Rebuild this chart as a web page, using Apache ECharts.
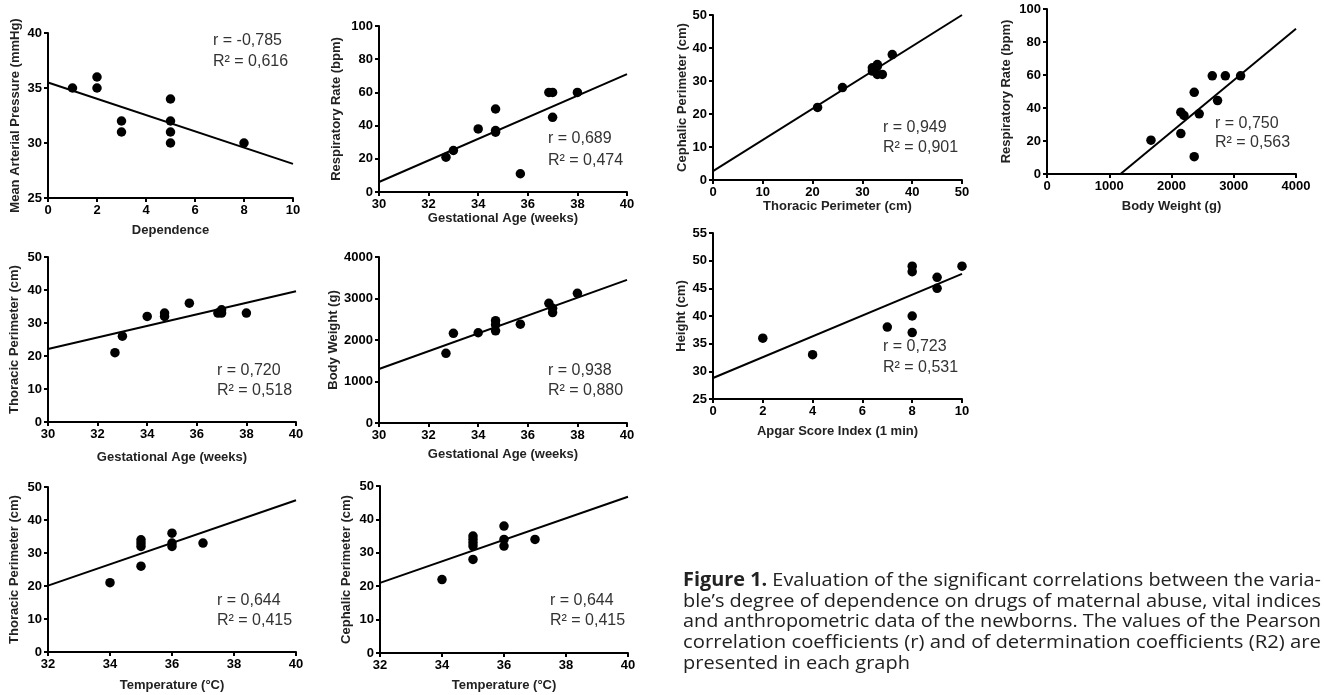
<!DOCTYPE html>
<html>
<head>
<meta charset="utf-8">
<script src="https://cdn.jsdelivr.net/npm/echarts@6/dist/echarts.min.js"></script>
<style>
html, body { margin: 0; background: #fff; }
#chart { width: 1324px; height: 695px; }
</style>
</head>
<body>
<div id="chart"></div>
<script>
var dom = document.getElementById('chart');
var myChart = echarts.init(dom);

// 1: dependence x mean arterial pressure
var dependence = [1, 2, 2, 3, 3, 5, 5, 5, 5, 8];
var meanArterialPressure = [35, 36, 35, 32, 31, 34, 32, 31, 30, 30];
var fitDependence = [0, 10];
var fitPressure = [35.5, 28.1];

// 2: gestational age x respiratory rate
var gestAgeResp = [32.7, 33, 34, 34.7, 34.7, 34.7, 35.7, 36.85, 37, 37, 38];
var respRateAge = [21, 25, 38, 50, 37, 36, 11, 60, 60, 45, 60];
var fitAgeResp = [30, 40];
var fitRespAge = [6, 71];

// 3: thoracic x cephalic perimeter
var thoracicCeph = [21, 26, 32, 32, 32.4, 33, 33, 33, 34, 36];
var cephalicThor = [22, 28, 33, 34, 33.5, 35, 34.5, 32, 32, 38];
var fitThor = [0, 50];
var fitCeph = [2.7, 50];

// 4: body weight x respiratory rate
var weightResp = [1670, 2150, 2200, 2150, 2365, 2365, 2445, 2655, 2740, 2865, 3110];
var respRateWeight = [20.5, 37.5, 35.5, 24.5, 49.5, 10.5, 36.5, 59.5, 44.5, 59.5, 59.5];
var fitWeight = [1180, 4000];
var fitRespWeight = [0, 88];

// 5: gestational age x thoracic perimeter
var gestAgeThor = [32.7, 33, 34, 34.7, 34.7, 35.7, 36.85, 37, 37, 38];
var thoracicAge = [21, 26, 32, 33, 32, 36, 33, 33, 34, 33];
var fitAgeThor = [30, 40];
var fitThorAge = [22.1, 39.6];

// 6: gestational age x body weight
var gestAgeWeight = [32.7, 33, 34, 34.7, 34.7, 34.7, 35.7, 36.85, 37, 37, 38];
var weightAge = [1680, 2160, 2175, 2465, 2365, 2220, 2380, 2885, 2765, 2660, 3125];
var fitAgeWeight = [30, 40];
var fitWeightAge = [1300, 3450];

// 7: apgar x height
var apgar = [2, 4, 7, 8, 8, 8, 8, 9, 9, 10];
var heightCm = [36, 33, 38, 49, 48, 40, 37, 47, 45, 49];
var fitApgar = [0, 10];
var fitHeight = [28.8, 47.6];

// 8: temperature x thoracic perimeter
var tempThor = [34, 35, 35, 35, 35, 36, 36, 36, 37];
var thoracicTemp = [21, 34, 33, 32, 26, 36, 33, 32, 33];
var fitTempThor = [32, 40];
var fitThorTemp = [20.1, 46];

// 9: temperature x cephalic perimeter
var tempCeph = [34, 35, 35, 35, 35, 35, 36, 36, 36, 37];
var cephalicTemp = [22, 35, 34, 33, 32, 28, 38, 34, 32, 34];
var fitTempCeph = [32, 40];
var fitCephTemp = [21, 46.8];

var captionLead = 'Figure 1.';
var captionLines = [
    ' Evaluation of the significant correlations between the varia-',
    'ble\u2019s degree of dependence on drugs of maternal abuse, vital indices',
    'and anthropometric data of the newborns. The values of the Pearson',
    'correlation coefficients (r) and of determination coefficients (R2) are',
    'presented in each graph'
];

var panels = [
    {x: dependence, y: meanArterialPressure, fx: fitDependence, fy: fitPressure,
     xr: [0, 10, 2], yr: [25, 40, 5], xName: 'Dependence', yName: 'Mean Arterial Pressure (mmHg)',
     r: 'r = -0,785', r2: 'R\u00b2 = 0,616', box: [48, 33, 245, 165], xGap: 26, yGap: 26, txt: [213, 41, 62]},
    {x: gestAgeResp, y: respRateAge, fx: fitAgeResp, fy: fitRespAge,
     xr: [30, 40, 2], yr: [0, 100, 20], xName: 'Gestational Age (weeks)', yName: 'Respiratory Rate (bpm)',
     r: 'r = 0,689', r2: 'R\u00b2 = 0,474', box: [379, 26, 248, 166], xGap: 17, yGap: 36, txt: [548, 139, 161]},
    {x: thoracicCeph, y: cephalicThor, fx: fitThor, fy: fitCeph,
     xr: [0, 50, 10], yr: [0, 50, 10], xName: 'Thoracic Perimeter (cm)', yName: 'Cephalic Perimeter (cm)',
     r: 'r = 0,949', r2: 'R\u00b2 = 0,901', box: [713, 15, 249, 165], xGap: 17, yGap: 23, txt: [883, 128, 148]},
    {x: weightResp, y: respRateWeight, fx: fitWeight, fy: fitRespWeight,
     xr: [0, 4000, 1000], yr: [0, 100, 20], xName: 'Body Weight (g)', yName: 'Respiratory Rate (bpm)',
     r: 'r = 0,750', r2: 'R\u00b2 = 0,563', box: [1047, 9, 249, 165], xGap: 26, yGap: 34, txt: [1215, 124, 143]},
    {x: gestAgeThor, y: thoracicAge, fx: fitAgeThor, fy: fitThorAge,
     xr: [30, 40, 2], yr: [0, 50, 10], xName: 'Gestational Age (weeks)', yName: 'Thoracic Perimeter (cm)',
     r: 'r = 0,720', r2: 'R\u00b2 = 0,518', box: [48, 257, 248, 165], xGap: 29, yGap: 27, txt: [217, 371, 391]},
    {x: gestAgeWeight, y: weightAge, fx: fitAgeWeight, fy: fitWeightAge,
     xr: [30, 40, 2], yr: [0, 4000, 1000], xName: 'Gestational Age (weeks)', yName: 'Body Weight (g)',
     r: 'r = 0,938', r2: 'R\u00b2 = 0,880', box: [379, 257, 248, 166], xGap: 25, yGap: 38, txt: [548, 371, 391]},
    {x: apgar, y: heightCm, fx: fitApgar, fy: fitHeight,
     xr: [0, 10, 2], yr: [25, 55, 5], xName: 'Apgar Score Index (1 min)', yName: 'Height (cm)',
     r: 'r = 0,723', r2: 'R\u00b2 = 0,531', box: [713, 233, 249, 166], xGap: 26, yGap: 25, txt: [883, 347, 368]},
    {x: tempThor, y: thoracicTemp, fx: fitTempThor, fy: fitThorTemp,
     xr: [32, 40, 2], yr: [0, 50, 10], xName: 'Temperature (\u00b0C)', yName: 'Thoracic Perimeter (cm)',
     r: 'r = 0,644', r2: 'R\u00b2 = 0,415', box: [48, 487, 248, 165], xGap: 27, yGap: 27, txt: [217, 601, 621]},
    {x: tempCeph, y: cephalicTemp, fx: fitTempCeph, fy: fitCephTemp,
     xr: [32, 40, 2], yr: [0, 50, 10], xName: 'Temperature (\u00b0C)', yName: 'Cephalic Perimeter (cm)',
     r: 'r = 0,644', r2: 'R\u00b2 = 0,415', box: [380, 486, 248, 167], xGap: 26, yGap: 27, txt: [550, 601, 621]}
];

var font = '"Liberation Sans", Arial, sans-serif';
var ink = '#000';

function zip(a, b) {
    return a.map(function (v, i) { return [v, b[i]]; });
}

var grid = [], xAxis = [], yAxis = [], series = [], graphic = [];

panels.forEach(function (p, i) {
    grid.push({left: p.box[0], top: p.box[1], width: p.box[2], height: p.box[3]});
    var common = {
        gridIndex: i,
        type: 'value',
        nameLocation: 'middle',
        nameTextStyle: {fontFamily: font, fontWeight: 'bold', fontSize: 13, color: '#222'},
        axisLine: {show: true, onZero: false, lineStyle: {color: ink, width: 2}},
        axisTick: {show: true, length: 4, lineStyle: {color: ink, width: 2}},
        axisLabel: {
            fontFamily: font, fontWeight: 'bold', fontSize: 13, color: ink, margin: 6,
            formatter: function (v) { return String(v); }
        },
        splitLine: {show: false}
    };
    xAxis.push(Object.assign({}, common, {
        min: p.xr[0], max: p.xr[1], interval: p.xr[2],
        name: p.xName, nameGap: p.xGap
    }));
    yAxis.push(Object.assign({}, common, {
        min: p.yr[0], max: p.yr[1], interval: p.yr[2],
        name: p.yName, nameGap: p.yGap
    }));
    series.push({
        type: 'line', xAxisIndex: i, yAxisIndex: i,
        data: zip(p.fx, p.fy), symbol: 'none', silent: true,
        lineStyle: {color: ink, width: 2}, z: 2
    });
    series.push({
        type: 'scatter', xAxisIndex: i, yAxisIndex: i,
        data: zip(p.x, p.y), symbolSize: 9.5, silent: true,
        itemStyle: {color: ink, opacity: 1}, z: 3
    });
    [p.r, p.r2].forEach(function (t, k) {
        graphic.push({
            type: 'text', x: p.txt[0], y: p.txt[k + 1],
            style: {text: t, fontFamily: font, fontSize: 16, fill: '#333', verticalAlign: 'middle'}
        });
    });
});

// caption, each line stretched to the column width like the justified original
var capFamily = '"Open Sans", "Noto Sans", sans-serif';
var capSize = 19;
var ctx = document.createElement('canvas').getContext('2d');
function measure(text, weight) {
    ctx.font = weight + ' ' + capSize + 'px ' + capFamily;
    return ctx.measureText(text).width;
}
var capWidth = 638;
var scales = captionLines.map(function (line, i) {
    var w = measure(line, 'normal') + (i === 0 ? measure(captionLead, 'bold') : 0);
    return capWidth / w;
});
var avgScale = scales.slice(0, -1).reduce(function (a, b) { return a + b; }, 0) / (scales.length - 1);
var capY = [581, 602, 622, 643, 664];
captionLines.forEach(function (line, i) {
    var last = i === captionLines.length - 1;
    graphic.push({
        type: 'text', x: 683, y: capY[i], scaleX: last ? avgScale : scales[i],
        style: {
            text: i === 0 ? '{b|' + captionLead + '}' + line : line,
            fontFamily: capFamily, fontSize: capSize, fill: '#222', verticalAlign: 'middle',
            rich: {b: {fontFamily: capFamily, fontSize: capSize, fontWeight: 'bold', fill: '#222'}}
        }
    });
});

var option = {
    animation: false,
    backgroundColor: '#fff',
    grid: grid,
    xAxis: xAxis,
    yAxis: yAxis,
    series: series,
    graphic: graphic
};

if (option && typeof option === 'object') {
    myChart.setOption(option, true);
}
</script>
</body>
</html>
